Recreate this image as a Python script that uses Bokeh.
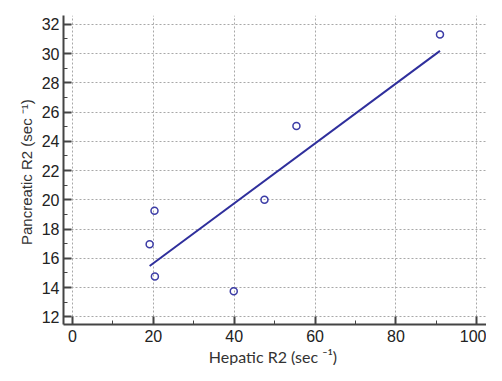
import numpy as np
from bokeh.plotting import figure
from bokeh.models import FixedTicker, Title
from bokeh.embed import file_html
from bokeh.resources import INLINE

# data
hepatic_r2 = [20.3, 19.1, 20.4, 39.9, 47.5, 55.4, 90.9]
pancreatic_r2 = [19.25, 16.95, 14.75, 13.75, 20.0, 25.05, 31.3]

x_ticks = [0, 20, 40, 60, 80, 100]
x_minor = [10, 30, 50, 70, 90]
y_ticks = [12, 14, 16, 18, 20, 22, 24, 26, 28, 30, 32]
y_minor = [13, 15, 17, 19, 21, 23, 25, 27, 29, 31]

BLUE = "#3c3ca6"
LINE = "#2f2f9c"
AXIS = "#444444"

p = figure(width=486, height=365, x_range=(-2.2, 102.4), y_range=(11.47, 32.6),
           output_backend="svg", toolbar_location=None,
           min_border_left=63, min_border_right=0, min_border_top=15, min_border_bottom=36)
p.outline_line_color = None
p.background_fill_color = "white"
p.border_fill_color = "white"

# regression line
slope, intercept = np.polyfit(hepatic_r2, pancreatic_r2, 1)
xs = np.array([min(hepatic_r2), max(hepatic_r2)])
p.line(xs, slope * xs + intercept, line_color=LINE, line_width=2)

p.scatter(hepatic_r2, pancreatic_r2, marker="circle", size=7, fill_color=None,
          line_color=BLUE, line_width=1.5)

p.xaxis.ticker = FixedTicker(ticks=x_ticks, minor_ticks=x_minor)
p.yaxis.ticker = FixedTicker(ticks=y_ticks, minor_ticks=y_minor)

for ax in (p.xaxis, p.yaxis):
    ax.axis_line_width = 2
    ax.axis_line_color = AXIS
    ax.major_tick_line_color = AXIS
    ax.major_tick_line_width = 2
    ax.major_tick_in = 8
    ax.major_tick_out = 0
    ax.minor_tick_line_color = AXIS
    ax.minor_tick_line_width = 1
    ax.minor_tick_in = 4
    ax.minor_tick_out = 0
    ax.major_label_text_font = "Liberation Sans"
    ax.major_label_text_font_size = "16px"
    ax.major_label_text_color = "#222222"

p.xaxis.major_label_standoff = 5
p.yaxis.major_label_standoff = 4

p.yaxis.axis_label = "Pancreatic R2  (sec \u207b\u00b9)"
p.yaxis.axis_label_text_font = "Liberation Sans"
p.yaxis.axis_label_text_font_size = "15px"
p.yaxis.axis_label_text_font_style = "normal"
p.yaxis.axis_label_text_color = "#333333"
p.yaxis.axis_label_standoff = 4

xt = Title(text="Hepatic R2  (sec \u207b\u00b9)", align="center", offset=-27,
           text_font="Lato", text_font_size="16px", text_font_style="normal",
           text_color="#333333", standoff=0)
p.add_layout(xt, "below")

p.xgrid.grid_line_color = "#a8a8a8"
p.ygrid.grid_line_color = "#a8a8a8"
p.xgrid.grid_line_dash = "2 2"
p.ygrid.grid_line_dash = "2 2"
p.xgrid.grid_line_width = 1
p.ygrid.grid_line_width = 1

open("out.html", "w").write(file_html(p, INLINE))
